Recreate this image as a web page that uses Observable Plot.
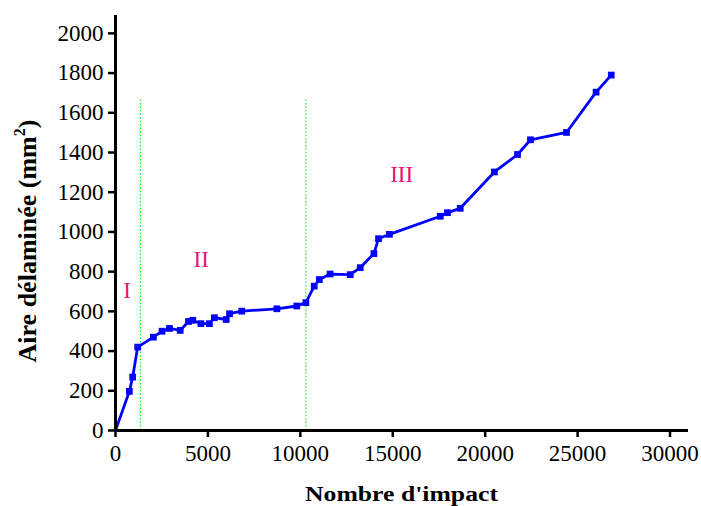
<!DOCTYPE html>
<html>
<head>
<meta charset="utf-8">
<script src="https://cdn.jsdelivr.net/npm/d3@7"></script>
<script src="https://cdn.jsdelivr.net/npm/@observablehq/plot@0.6"></script>
<style>
  html, body { margin: 0; padding: 0; background: #fff; }
  svg text, svg g { font-family: "Liberation Serif", "Times New Roman", serif !important; font-variant: normal !important; font-variant-numeric: normal !important; }
</style>
</head>
<body>
<div id="chart"></div>
<script>
const impacts = [0, 750, 930, 1200, 2050, 2520, 2920, 3500, 3950, 4180, 4620, 5080, 5350, 5990, 6170, 6830, 8730, 9810, 10300, 10750, 11030, 11610, 12700, 13240, 13980, 14230, 14820, 17570, 17960, 18650, 20500, 21750, 22450, 24400, 26000, 26820];
const aire = [0, 197, 269, 420, 470, 500, 514, 504, 549, 555, 538, 538, 568, 559, 588, 601, 613, 627, 644, 727, 760, 788, 785, 820, 891, 966, 988, 1079, 1097, 1119, 1302, 1390, 1464, 1501, 1704, 1790];
const phaseLimits = [1350, 10300];
const phaseLimitTop = 1670;
const phaseLabels = ["I", "II", "III"];
const phaseLabelX = [630, 4640, 15480];
const phaseLabelY = [706, 862, 1290];
const xTicks = [0, 5000, 10000, 15000, 20000, 25000, 30000];
const yTicks = [0, 200, 400, 600, 800, 1000, 1200, 1400, 1600, 1800, 2000];

const data = impacts.map((x, i) => ({x, y: aire[i]}));
const phases = phaseLabels.map((t, i) => ({t, x: phaseLabelX[i], y: phaseLabelY[i]}));
const limits = phaseLimits.map(x => ({x, y1: 0, y2: phaseLimitTop}));

const W = 701, H = 506;
const plot = Plot.plot({
  width: W,
  height: H,
  marginLeft: 115,
  marginRight: 13,
  marginTop: 15,
  marginBottom: 76,
  style: {fontFamily: "Liberation Serif, serif", fontSize: "23px", color: "#000", background: "#fff"},
  x: {domain: [0, 31000]},
  y: {domain: [0, 2090]},
  marks: [
    Plot.ruleX(limits, {x: "x", y1: "y1", y2: "y2", stroke: "#22ee22", strokeWidth: 1.2, strokeDasharray: "1.5,2"}),
    Plot.line(data, {x: "x", y: "y", stroke: "#0000ff", strokeWidth: 2.8}),
    Plot.dot(data.slice(1), {x: "x", y: "y", symbol: "square", r: 3.8, fill: "#0000ff", stroke: "none"}),
    Plot.text(phases, {x: "x", y: "y", text: "t", fill: "#ee1177", fontSize: 23}),
    Plot.axisX({ticks: xTicks, tickFormat: d => String(d), tickSize: 7, tickPadding: 7, strokeWidth: 2.5, label: null, fontSize: 23, fontVariant: "normal"}),
    Plot.axisY({ticks: yTicks, tickFormat: d => String(d), tickSize: 7, tickPadding: 5, strokeWidth: 2.5, label: null, fontSize: 23, fontVariant: "normal"}),
    Plot.ruleY([0], {strokeWidth: 3, stroke: "#000"}),
    Plot.ruleX([0], {strokeWidth: 3, stroke: "#000"})
  ]
});

const svg = d3.select(plot);
svg.selectAll("text").attr("font-family", "Liberation Serif").attr("font-variant", null);
svg.append("text")
  .attr("x", 401.5).attr("y", 501)
  .attr("text-anchor", "middle")
  .attr("font-weight", "bold")
  .attr("font-size", 20)
  .attr("font-family", "Liberation Serif")
  .attr("textLength", 193)
  .attr("lengthAdjust", "spacingAndGlyphs")
  .attr("fill", "#000")
  .text("Nombre d'impact");

const yl = svg.append("text")
  .attr("transform", "translate(36,241) rotate(-90)")
  .attr("text-anchor", "middle")
  .attr("font-weight", "bold")
  .attr("font-size", 26)
  .attr("font-family", "Liberation Serif")
  .attr("fill", "#000");
yl.append("tspan").text("Aire délaminée (mm");
yl.append("tspan").attr("dy", -11).attr("font-size", 16).text("2");
yl.append("tspan").attr("dy", 11).text(")");

document.getElementById("chart").appendChild(plot);
</script>
</body>
</html>
